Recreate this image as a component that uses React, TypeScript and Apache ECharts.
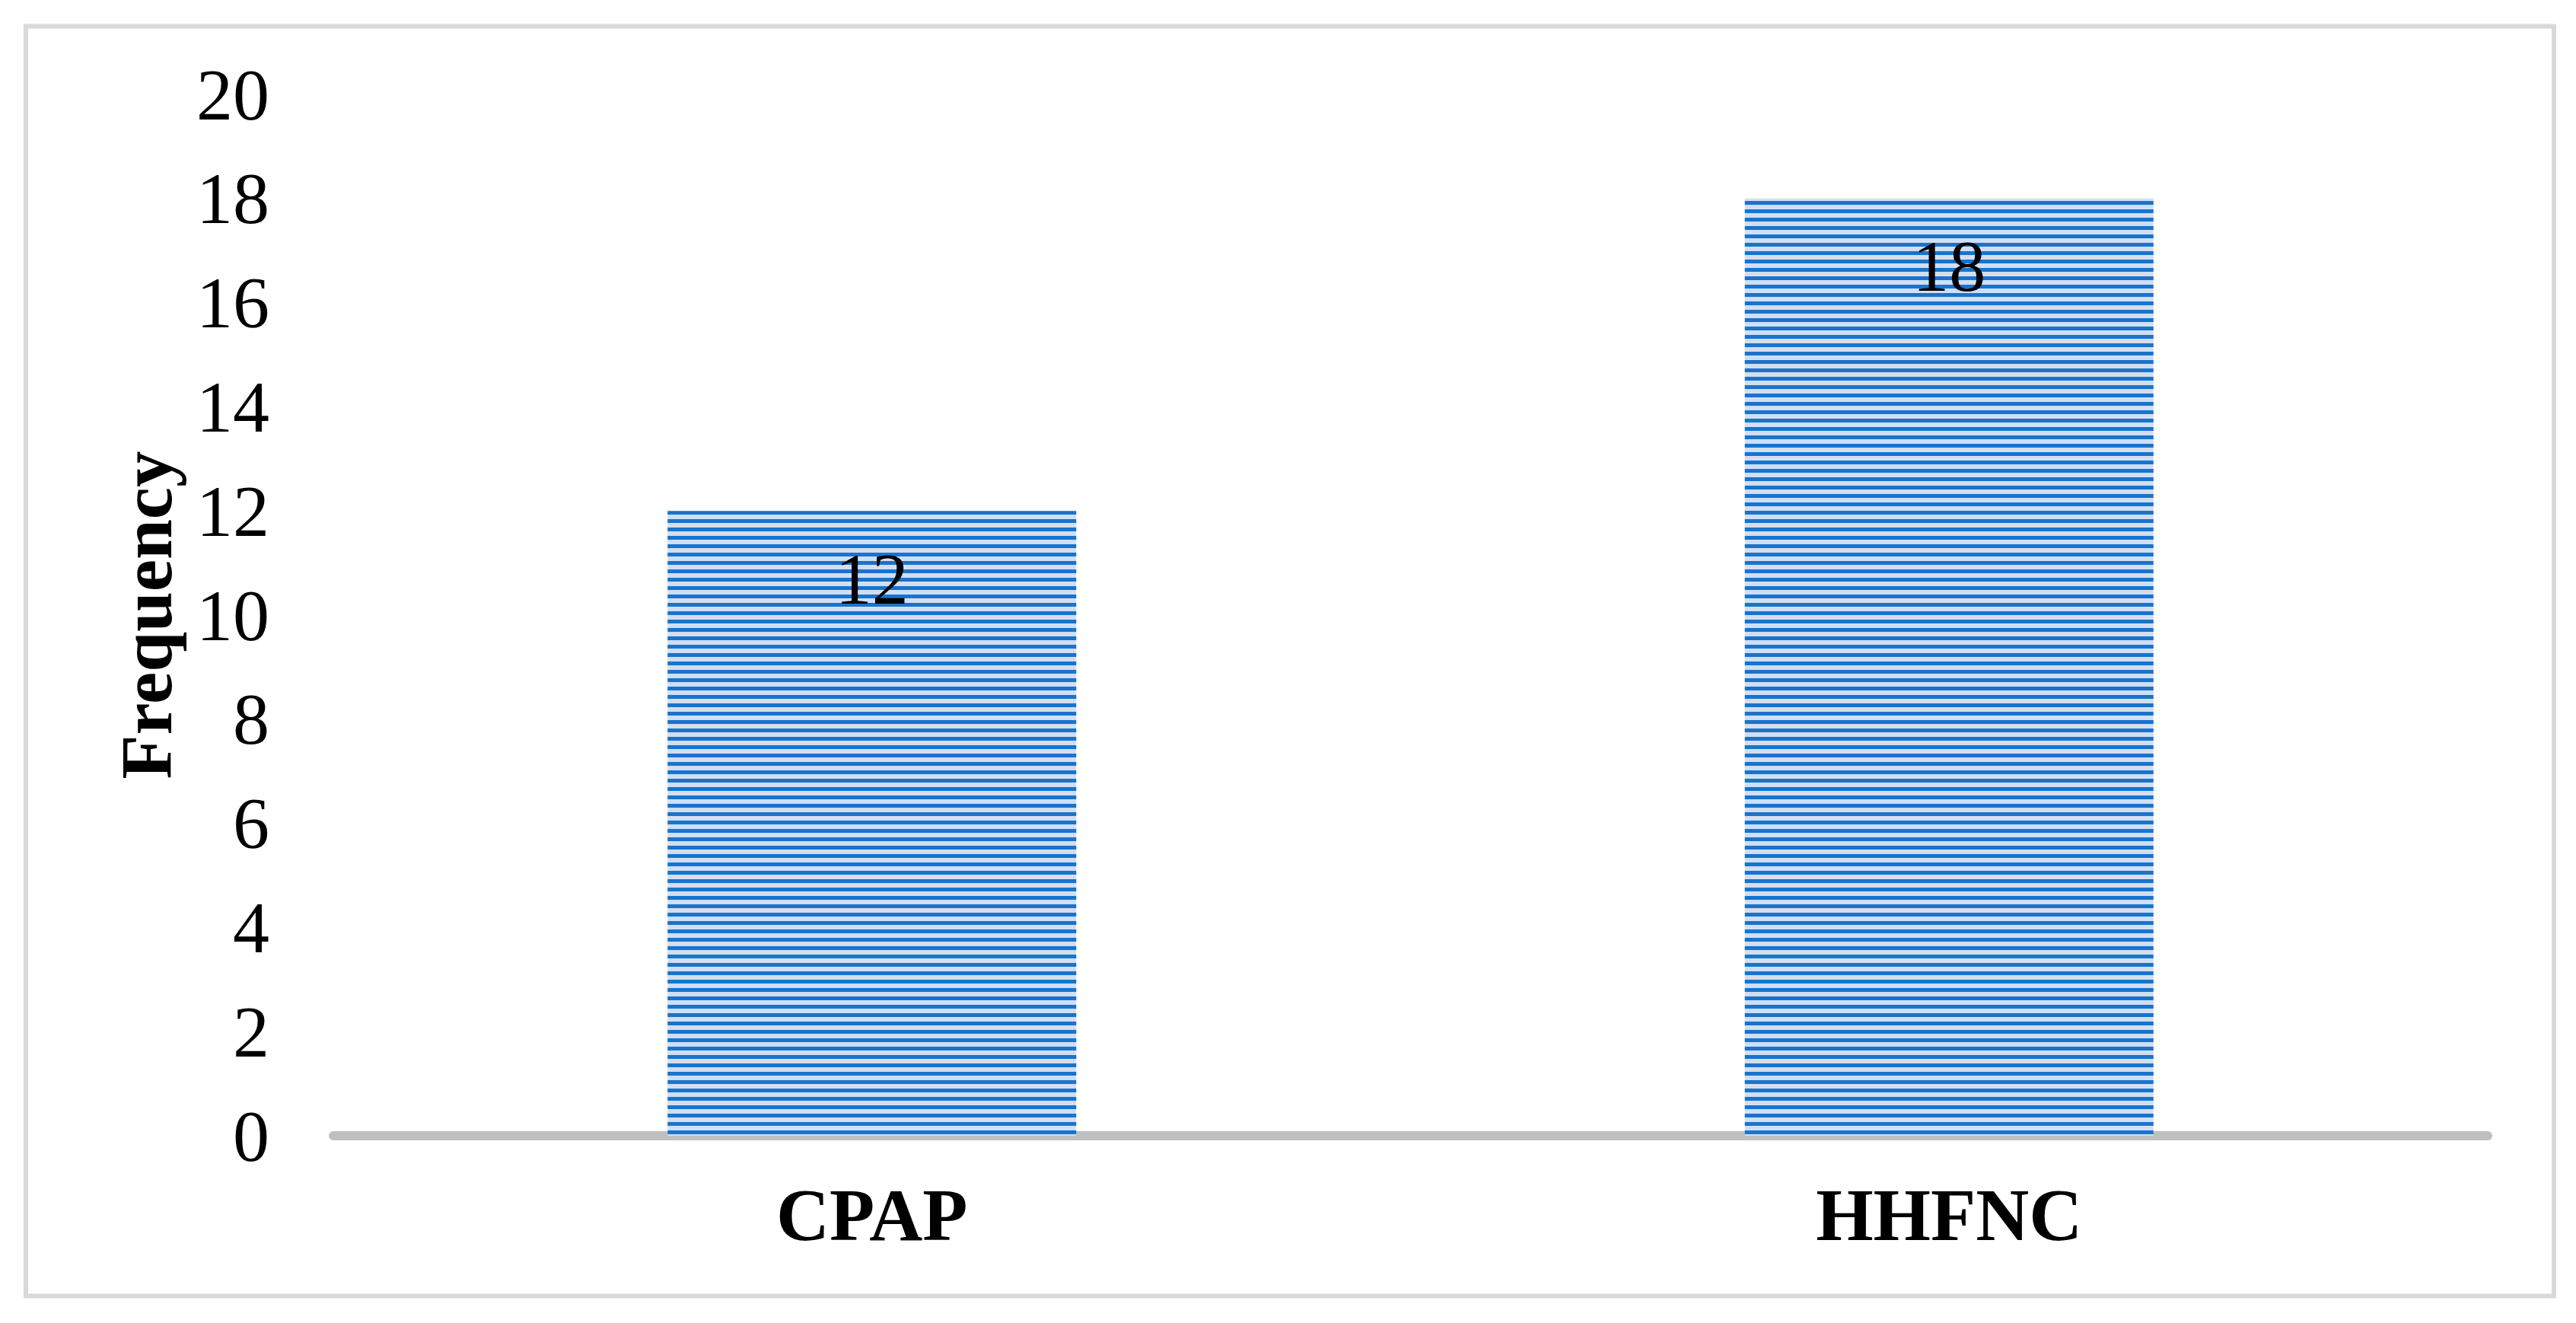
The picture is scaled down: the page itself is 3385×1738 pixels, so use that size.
import React, { useEffect, useRef } from "react";
import * as echarts from "echarts";

const categories: string[] = ["CPAP", "HHFNC"];
const frequencies: number[] = [12, 18];
const yMin = 0;
const yMax = 20;
const yInterval = 2;
const yAxisTitle = "Frequency";

const SERIF = "'Liberation Serif', 'Times New Roman', serif";

export default function App() {
  const ref = useRef<HTMLDivElement>(null);

  useEffect(() => {
    document.body.style.margin = "0";
    if (!ref.current) return;
    const chart = echarts.init(ref.current, undefined, { renderer: "svg" });
    chart.setOption({
      animation: false,
      backgroundColor: "#ffffff",
      grid: { left: 438, right: 116, top: 124, bottom: 246, containLabel: false },
      graphic: [
        {
          type: "rect",
          shape: { x: 34, y: 34.5, width: 3322, height: 1668 },
          style: { fill: "none", stroke: "#d9d9d9", lineWidth: 6 },
          silent: true,
        },
      ],
      xAxis: {
        type: "category",
        data: categories,
        axisLine: { show: true, lineStyle: { color: "#bfbfbf", width: 12 } },
        axisTick: { show: false },
        axisLabel: {
          margin: 56,
          fontSize: 97,
          fontWeight: "bold",
          fontFamily: SERIF,
          color: "#000000",
        },
        splitLine: { show: false },
      },
      yAxis: {
        type: "value",
        min: yMin,
        max: yMax,
        interval: yInterval,
        name: yAxisTitle,
        nameLocation: "middle",
        nameRotate: 90,
        nameGap: 198,
        nameTextStyle: {
          fontSize: 95,
          fontWeight: "bold",
          fontFamily: SERIF,
          color: "#000000",
        },
        axisLine: { show: false },
        axisTick: { show: false },
        splitLine: { show: false },
        axisLabel: {
          margin: 84,
          fontSize: 96,
          fontFamily: SERIF,
          color: "#000000",
        },
      },
      series: [
        {
          type: "bar",
          data: frequencies,
          barWidth: 537,
          itemStyle: {
            color: "#d2def2",
            decal: {
              symbol: "rect",
              symbolSize: 1,
              dashArrayX: [[20, 0]],
              dashArrayY: [5, 6],
              rotation: 0,
              color: "#1874cd",
            },
          },
          label: {
            show: true,
            position: "insideTop",
            distance: 41,
            fontSize: 96,
            fontFamily: SERIF,
            color: "#000000",
          },
        },
      ],
    });
    return () => chart.dispose();
  }, []);

  return <div ref={ref} style={{ width: 3385, height: 1738 }} />;
}
